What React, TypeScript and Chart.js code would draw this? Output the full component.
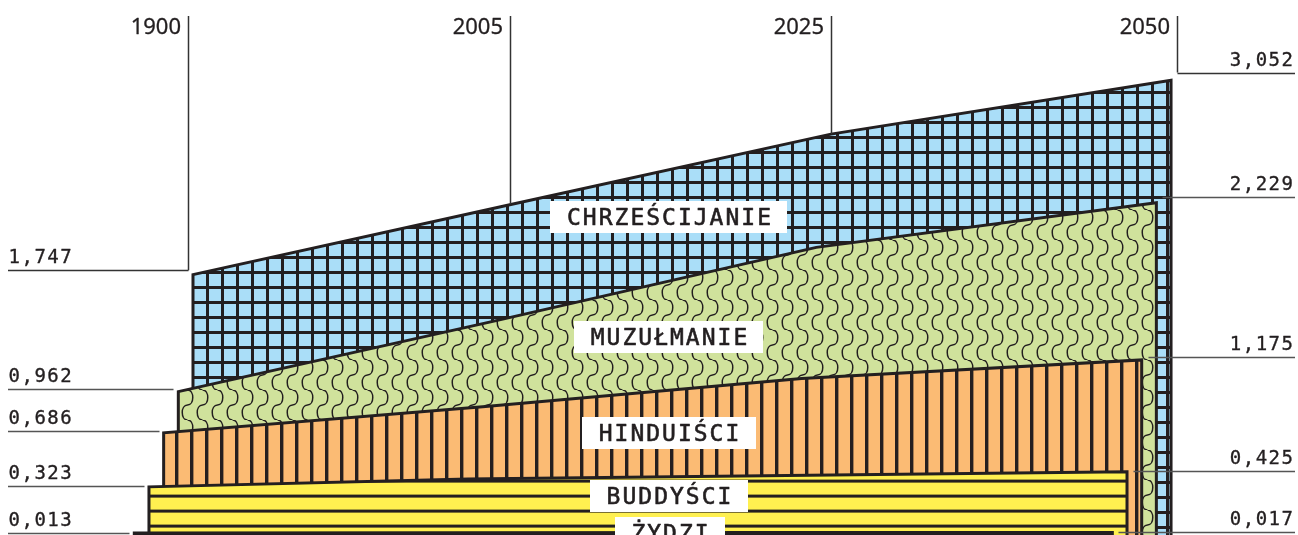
import React, { useEffect, useRef } from 'react';
import { Chart, registerables } from 'chart.js';

Chart.register(...registerables);

// ---------- data ----------
const YEARS = ['1900', '2005', '2025', '2050'];
const RELIGIONS = ['CHRZEŚCIJANIE', 'MUZUŁMANIE', 'HINDUIŚCI', 'BUDDYŚCI', 'ŻYDZI'];
const CHRISTIANS = [1.747, 2.22, 2.69, 3.052];
const MUSLIMS = [0.962, 1.44, 1.93, 2.229];
const HINDUS = [0.686, 0.86, 1.05, 1.175];
const BUDDHISTS = [0.323, 0.376, 0.4, 0.425];
const JEWS = [0.013, 0.015, 0.016, 0.017];
const SERIES = [CHRISTIANS, MUSLIMS, HINDUS, BUDDHISTS, JEWS];

// ---------- layout / style ----------
const W = 1298;
const H = 535;
const YEAR_SLOT = [0, 1, 2, 3.066]; // horizontal axis slot of each year
const LAYER_SHIFT = 0.046; // each layer is drawn a little further left
const INK = '#231f20';
const LEADER = '#555555';
const BLUE = '#aadef8';
const GREEN = '#d0e29c';
const ORANGE = '#fbbb74';
const YELLOW = '#fff050';
const MONO = '"DejaVu Sans Mono", "Liberation Mono", monospace';
const SANS = '"Noto Sans", "Open Sans", sans-serif';
const LABEL_BOX = [
  { cx: 669, cy: 217 },
  { cx: 669, cy: 337 },
  { cx: 669, cy: 432.5 },
  { cx: 669, cy: 496 },
  { cx: 670, cy: 533 },
];
const TICK_NUDGE = [-5, -2, 0, 6];

const fmt = (v: number) => v.toFixed(3).replace('.', ',');

function tile(w: number, h: number, draw: (g: CanvasRenderingContext2D) => void) {
  const c = document.createElement('canvas');
  c.width = w;
  c.height = h;
  const g = c.getContext('2d')!;
  draw(g);
  return g.createPattern(c, 'repeat')!;
}

function makePatterns() {
  const grid = tile(15, 15, (g) => {
    g.fillStyle = BLUE;
    g.fillRect(0, 0, 15, 15);
    g.fillStyle = INK;
    g.fillRect(11, 0, 3, 15);
    g.fillRect(0, 1, 15, 3);
  });
  const wave = tile(15, 30, (g) => {
    g.fillStyle = GREEN;
    g.fillRect(0, 0, 15, 30);
    g.strokeStyle = INK;
    g.lineWidth = 1.5;
    g.beginPath();
    g.moveTo(7.5, 0);
    g.bezierCurveTo(14.5, 0, 14.5, 15, 7.5, 15);
    g.bezierCurveTo(0.5, 15, 0.5, 30, 7.5, 30);
    g.stroke();
  });
  const vert = tile(15, 15, (g) => {
    g.fillStyle = ORANGE;
    g.fillRect(0, 0, 15, 15);
    g.fillStyle = INK;
    g.fillRect(10, 0, 3.4, 15);
  });
  const horiz = tile(15, 15, (g) => {
    g.fillStyle = YELLOW;
    g.fillRect(0, 0, 15, 15);
    g.fillStyle = INK;
    g.fillRect(0, 0, 15, 2.6);
    g.fillRect(0, 14.6, 15, 0.4);
  });
  return [grid, wave, vert, horiz, INK];
}

function boldText(ctx: CanvasRenderingContext2D, s: string, x: number, y: number, sw: number) {
  ctx.fillText(s, x, y);
  ctx.lineWidth = sw;
  ctx.strokeStyle = INK;
  ctx.strokeText(s, x, y);
}

const decorations = {
  id: 'decorations',
  afterDatasetsDraw(chart: any) {
    const ctx: CanvasRenderingContext2D = chart.ctx;
    const xs = chart.scales.x;
    const ys = chart.scales.y;
    const yl = chart.scales.yl;
    const startPx = (i: number) => xs.getPixelForValue(YEAR_SLOT[0] - i * LAYER_SHIFT);
    const endPx = (i: number) => xs.getPixelForValue(YEAR_SLOT[3] - i * LAYER_SHIFT);

    ctx.save();
    ctx.lineCap = 'butt';
    ctx.lineJoin = 'round';

    // year ticks
    YEARS.forEach((yr, j) => {
      const px = Math.round(xs.getPixelForValue(YEAR_SLOT[j]) + TICK_NUDGE[j]) + 0.5;
      const bottom =
        j === 0 || j === 3
          ? yl.getPixelForValue(CHRISTIANS[j])
          : ys.getPixelForValue(CHRISTIANS[j]);
      ctx.strokeStyle = '#333333';
      ctx.lineWidth = 1.5;
      ctx.beginPath();
      ctx.moveTo(px, 16);
      ctx.lineTo(px, bottom);
      ctx.stroke();
      ctx.fillStyle = INK;
      ctx.font = `22px ${SANS}`;
      ctx.textAlign = 'right';
      ctx.textBaseline = 'alphabetic';
      boldText(ctx, yr, px - 7.5, 33.5, 0.3);
    });

    // value leaders
    ctx.font = `19px ${MONO}`;
    (ctx as any).letterSpacing = '1.5px';
    SERIES.forEach((vals, i) => {
      const ly = Math.round(yl.getPixelForValue(vals[0])) + 0.5;
      const lx = Math.round(startPx(i) - 5) + 0.5;
      ctx.strokeStyle = i === 0 ? '#333333' : LEADER;
      ctx.lineWidth = 1.5;
      ctx.beginPath();
      ctx.moveTo(8, ly);
      ctx.lineTo(lx, ly);
      ctx.stroke();
      ctx.fillStyle = INK;
      ctx.textAlign = 'left';
      boldText(ctx, fmt(vals[0]), 8.5, ly - 7.5, 0.35);

      const ry = Math.round(yl.getPixelForValue(vals[3])) + 0.5;
      const rx = Math.round(endPx(i) + 6) + 0.5;
      ctx.strokeStyle = i === 0 ? '#333333' : LEADER;
      ctx.lineWidth = 1.5;
      ctx.beginPath();
      ctx.moveTo(rx, ry);
      ctx.lineTo(1295, ry);
      ctx.stroke();
      const txt = fmt(vals[3]);
      const w = ctx.measureText(txt).width - 1.5;
      ctx.textAlign = 'left';
      boldText(ctx, txt, 1293 - w, ry - 8, 0.35);
    });

    // category labels
    ctx.font = `23px ${MONO}`;
    (ctx as any).letterSpacing = '2px';
    RELIGIONS.forEach((name, i) => {
      const { cx, cy } = LABEL_BOX[i];
      const tw = ctx.measureText(name).width - 2;
      const bw = tw + 33;
      const bh = 32;
      ctx.fillStyle = '#ffffff';
      ctx.fillRect(Math.round(cx - bw / 2), Math.round(cy - bh / 2), Math.round(bw), bh);
      ctx.fillStyle = INK;
      ctx.textAlign = 'left';
      boldText(ctx, name, cx - tw / 2, cy + 8.4, 0.6);
    });
    ctx.restore();
  },
};

export default function App() {
  const ref = useRef<HTMLCanvasElement | null>(null);

  useEffect(() => {
    const canvas = ref.current!;
    const fills = makePatterns();
    const datasets = SERIES.map((vals, i) => {
      const s = -i * LAYER_SHIFT;
      const pts = [
        { x: YEAR_SLOT[0] + s, y: 0 },
        ...vals.map((v, j) => ({ x: YEAR_SLOT[j] + s, y: v })),
        { x: YEAR_SLOT[3] + s, y: 0 },
      ];
      return {
        label: RELIGIONS[i],
        data: pts,
        fill: 'origin',
        backgroundColor: fills[i],
        borderColor: INK,
        borderWidth: 3,
        borderJoinStyle: 'miter' as const,
        pointRadius: 0,
        pointHoverRadius: 0,
        tension: 0,
        order: SERIES.length - i,
      };
    });

    const chart = new Chart(canvas, {
      type: 'line',
      data: { datasets: datasets as any },
      options: {
        responsive: false,
        animation: false,
        devicePixelRatio: 1,
        layout: { padding: 0 },
        events: [],
        scales: {
          x: { type: 'linear', display: false, min: -0.605, max: 3.464 },
          y: { type: 'linear', display: false, min: 0, max: 3.59 },
          yl: { type: 'linear', axis: 'y', display: false, min: 0, max: 3.531 },
        },
        plugins: {
          legend: { display: false },
          tooltip: { enabled: false },
        },
      },
      plugins: [decorations],
    });
    return () => chart.destroy();
  }, []);

  return (
    <div style={{ position: 'absolute', left: 0, top: 0, width: W, height: H, background: '#fff' }}>
      <canvas ref={ref} width={W} height={H} style={{ display: 'block' }} />
    </div>
  );
}
